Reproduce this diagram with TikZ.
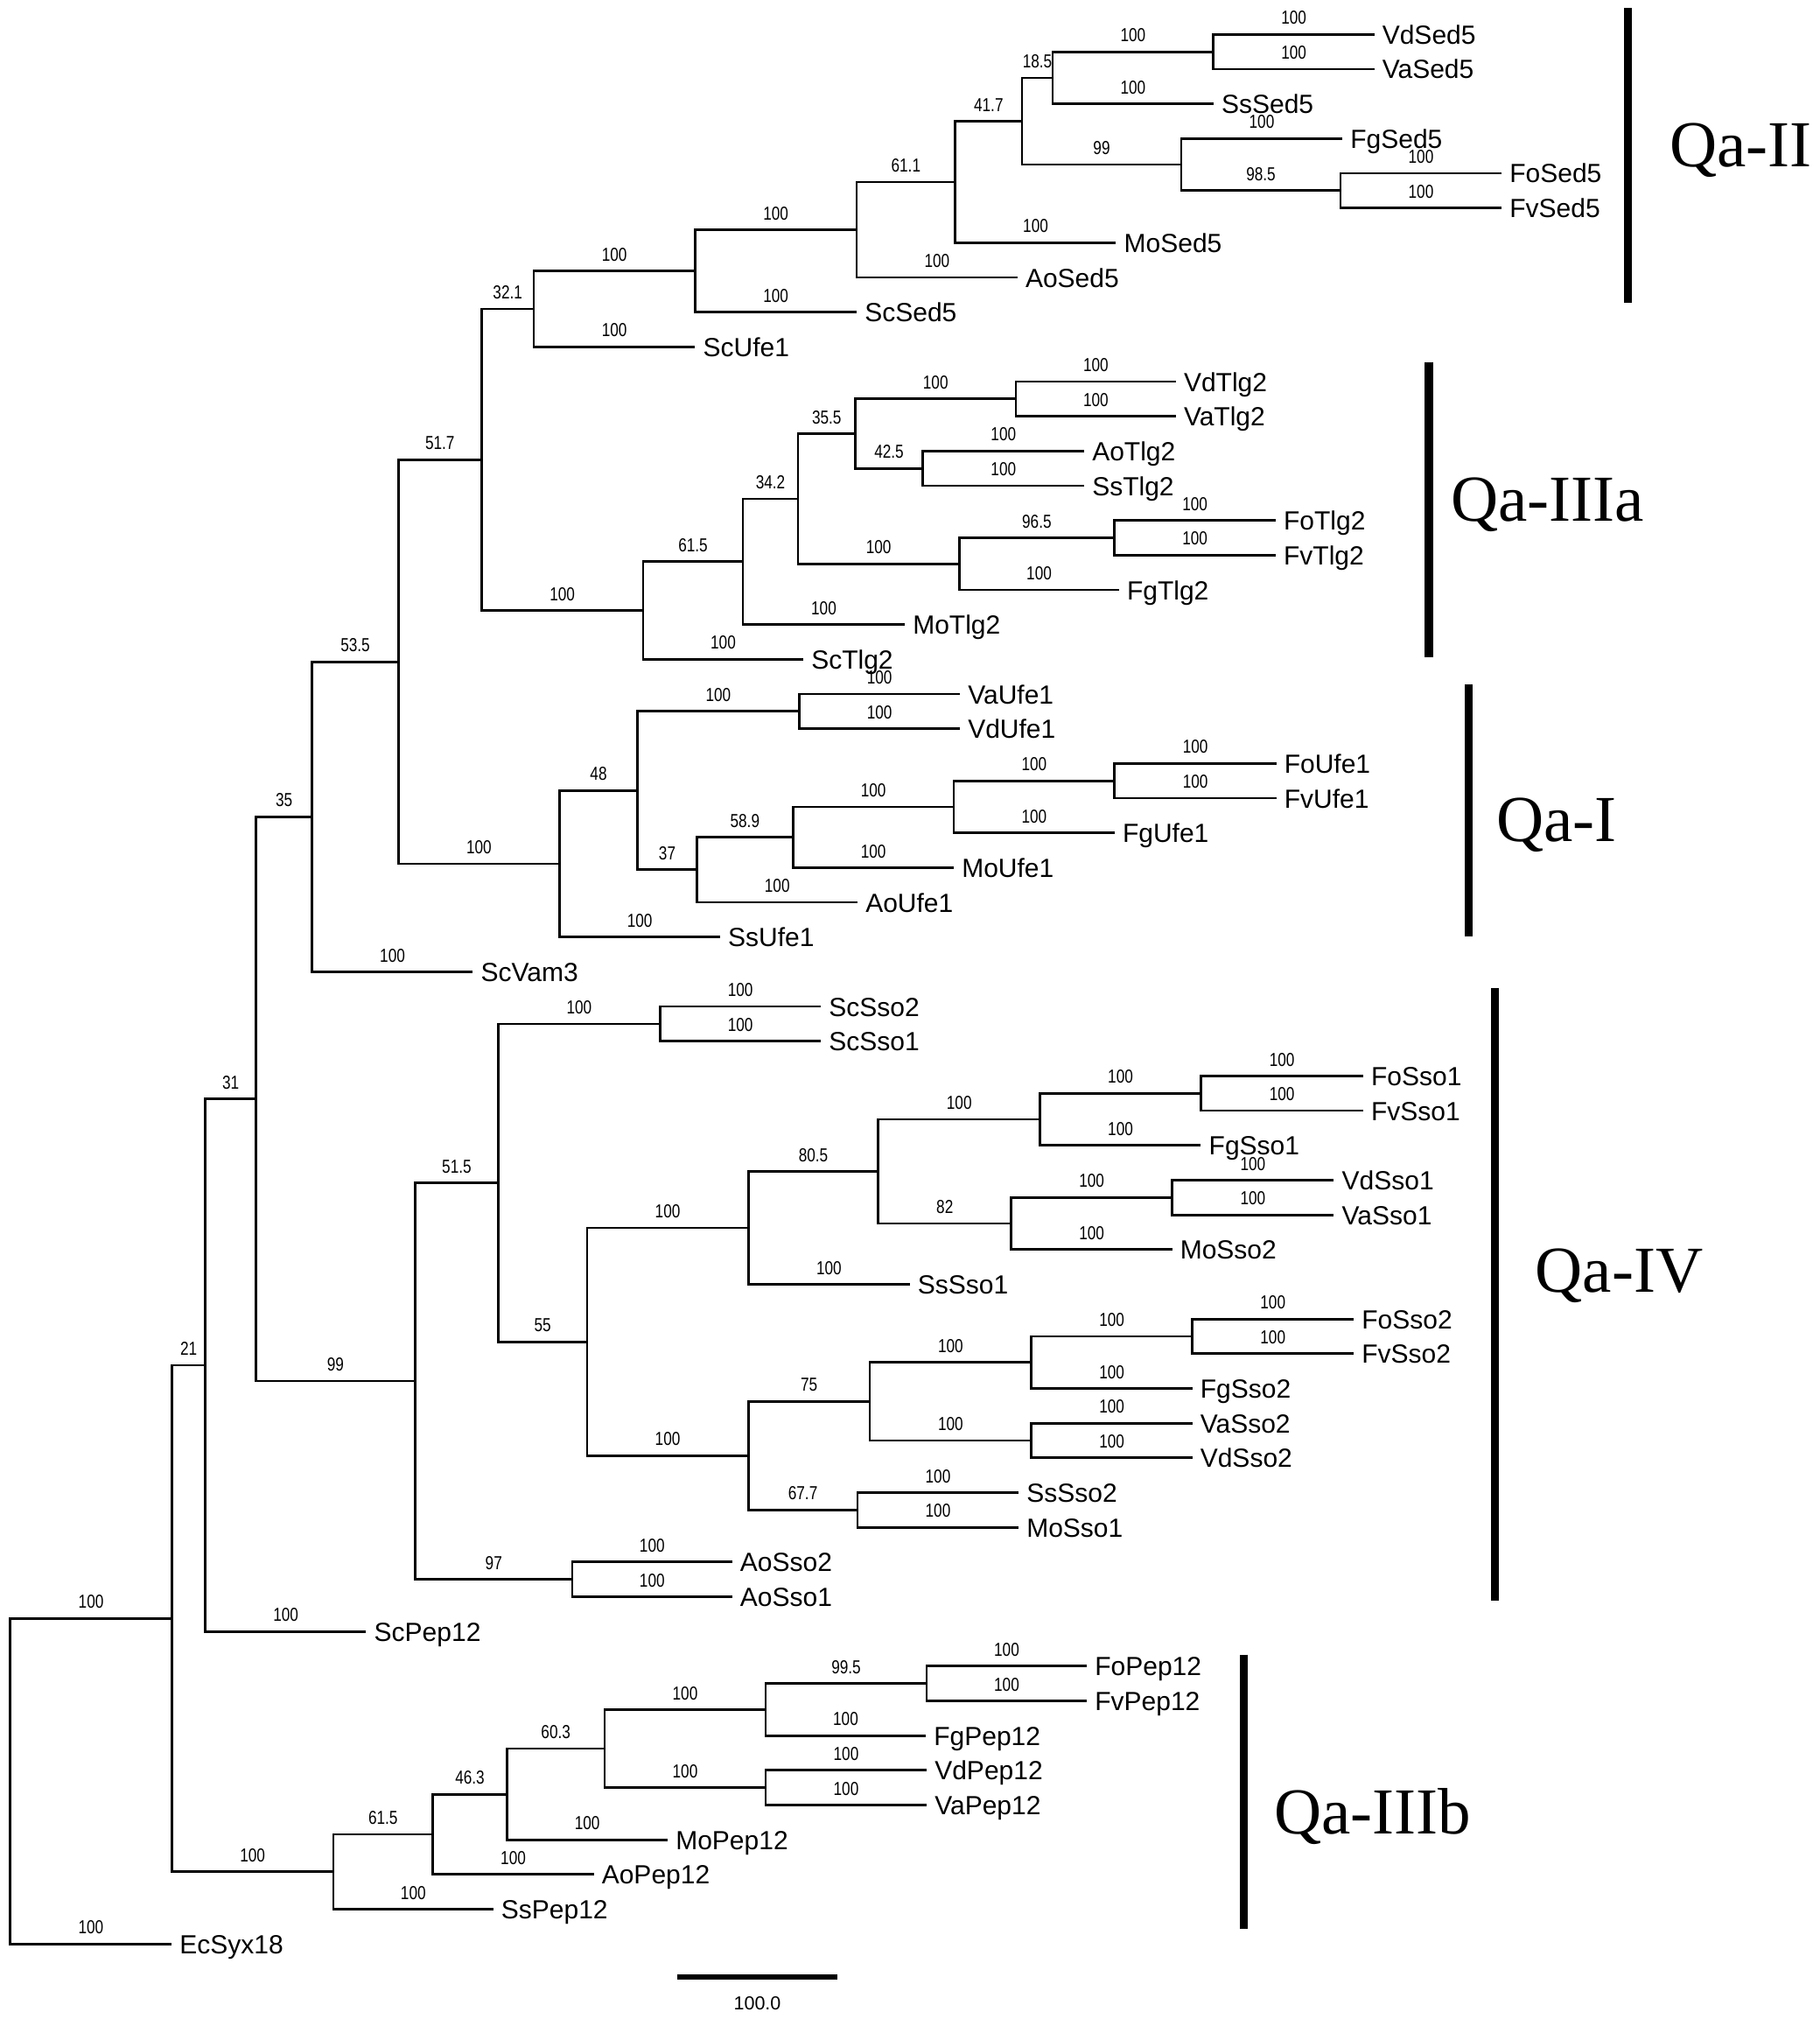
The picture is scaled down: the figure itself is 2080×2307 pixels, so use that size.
\documentclass[tikz,border=0pt]{standalone}
\usepackage{fontspec}
\setmainfont{Liberation Sans}
\newfontfamily\cladefont{Liberation Serif}
\usepackage{graphicx}
\usetikzlibrary{calc}
\newcommand\Yi[1]{39.3+39.67*(#1-1)}
\newcommand\mkleaf[3]{\coordinate (#1) at (#2,{\Yi{#3}});\node[leaflab] (t#1) at (#1) {#1};}
\newcommand\mknode[3]{\coordinate (#1) at (#2,{\Yi{#3}});}
\newcommand\mkclade[5]{\draw[branch] (#2) -| (#1) |- (#3);
 \node[bslab] (b#2) at ($(#1|-#2)!0.5!(#2)$) {\scalebox{0.8}[1]{#4}};
 \node[bslab] (b#3) at ($(#1|-#3)!0.5!(#3)$) {\scalebox{0.8}[1]{#5}};}
\begin{document}
\begin{tikzpicture}[x=0.25pt,y=-0.25pt,
  branch/.style={line width=0.7pt,line join=miter},
  bslab/.style={anchor=base,yshift=2.85pt,inner sep=0pt,font=\fontsize{5.375}{6}\selectfont},
  leaflab/.style={anchor=base west,xshift=2.125pt,yshift=-2.75pt,inner sep=0pt,font=\fontsize{7.5}{9}\selectfont},
  cbar/.style={line width=2.375pt},
  cladelab/.style={anchor=base west,inner sep=0pt,font=\cladefont\fontsize{18.75}{20}\selectfont},
  sbar/.style={line width=1.35pt}]
\useasboundingbox (0,0) rectangle (2080,2307);
% leaves
\mkleaf{VdSed5}{1570.5}{1}
\mkleaf{VaSed5}{1570.5}{2}
\mkleaf{SsSed5}{1386.8}{3}
\mkleaf{FgSed5}{1534}{4}
\mkleaf{FoSed5}{1716}{5}
\mkleaf{FvSed5}{1716}{6}
\mkleaf{MoSed5}{1275.4}{7}
\mkleaf{AoSed5}{1162.7}{8}
\mkleaf{ScSed5}{979}{9}
\mkleaf{ScUfe1}{794.4}{10}
\mkleaf{VdTlg2}{1343.7}{11}
\mkleaf{VaTlg2}{1343.7}{12}
\mkleaf{AoTlg2}{1239}{13}
\mkleaf{SsTlg2}{1239}{14}
\mkleaf{FoTlg2}{1457.8}{15}
\mkleaf{FvTlg2}{1457.8}{16}
\mkleaf{FgTlg2}{1278.7}{17}
\mkleaf{MoTlg2}{1034}{18}
\mkleaf{ScTlg2}{918}{19}
\mkleaf{VaUfe1}{1097}{20}
\mkleaf{VdUfe1}{1097}{21}
\mkleaf{FoUfe1}{1458.5}{22}
\mkleaf{FvUfe1}{1458.5}{23}
\mkleaf{FgUfe1}{1273.7}{24}
\mkleaf{MoUfe1}{1090}{25}
\mkleaf{AoUfe1}{980}{26}
\mkleaf{SsUfe1}{822.8}{27}
\mkleaf{ScVam3}{540.3}{28}
\mkleaf{ScSso2}{938}{29}
\mkleaf{ScSso1}{938}{30}
\mkleaf{FoSso1}{1557.8}{31}
\mkleaf{FvSso1}{1557.8}{32}
\mkleaf{FgSso1}{1372.4}{33}
\mkleaf{VdSso1}{1524.4}{34}
\mkleaf{VaSso1}{1524.4}{35}
\mkleaf{MoSso2}{1339.5}{36}
\mkleaf{SsSso1}{1039.5}{37}
\mkleaf{FoSso2}{1547}{38}
\mkleaf{FvSso2}{1547}{39}
\mkleaf{FgSso2}{1362.5}{40}
\mkleaf{VaSso2}{1362.5}{41}
\mkleaf{VdSso2}{1362.5}{42}
\mkleaf{SsSso2}{1164}{43}
\mkleaf{MoSso1}{1164}{44}
\mkleaf{AoSso2}{836.6}{45}
\mkleaf{AoSso1}{836.6}{46}
\mkleaf{ScPep12}{418.4}{47}
\mkleaf{FoPep12}{1242}{48}
\mkleaf{FvPep12}{1242}{49}
\mkleaf{FgPep12}{1058}{50}
\mkleaf{VdPep12}{1059}{51}
\mkleaf{VaPep12}{1059}{52}
\mkleaf{MoPep12}{763}{53}
\mkleaf{AoPep12}{678.5}{54}
\mkleaf{SsPep12}{563.6}{55}
\mkleaf{EcSyx18}{196}{56}
% internal nodes
\mknode{Root}{11.7}{51.313232421875}
\mknode{A}{196.4}{46.62646484375}
\mknode{B}{234.8}{39.3310546875}
\mknode{D}{292.4}{31.662109375}
\mknode{E}{356.8}{23.53515625}
\mknode{G}{455.2}{19.0703125}
\mknode{H}{550.4}{13.25}
\mknode{J}{610}{8.90625}
\mknode{L}{794.4}{7.8125}
\mknode{M}{979}{6.625}
\mknode{N}{1091.7}{5.25}
\mknode{O}{1168}{3.5}
\mknode{P}{1203}{2.25}
\mknode{R1}{1386.8}{1.5}
\mknode{Q}{1350}{4.75}
\mknode{S}{1532}{5.5}
\mknode{K}{735}{17.59375}
\mknode{T}{849}{16.1875}
\mknode{U}{912}{14.375}
\mknode{V}{977.5}{12.5}
\mknode{X}{1161}{11.5}
\mknode{Y}{1054.6}{13.5}
\mknode{W}{1096.4}{16.25}
\mknode{Z}{1273.4}{15.5}
\mknode{I}{639.6}{24.890625}
\mknode{AA}{728.5}{22.78125}
\mknode{AB}{913.3}{20.5}
\mknode{AC}{796.5}{25.0625}
\mknode{AD}{906.2}{24.125}
\mknode{AE}{1090}{23.25}
\mknode{AF}{1273.7}{22.5}
\mknode{F}{474.5}{39.7890625}
\mknode{AG}{569.4}{34.078125}
\mknode{AI}{754.3}{29.5}
\mknode{AJ}{670.9}{38.65625}
\mknode{AK}{855.2}{35.375}
\mknode{AM}{1003.8}{33.75}
\mknode{AN}{1188.7}{32.25}
\mknode{AP}{1372.4}{31.5}
\mknode{AO}{1155.8}{35.25}
\mknode{AQ}{1339.5}{34.5}
\mknode{AL}{855.2}{41.9375}
\mknode{AR}{994}{40.375}
\mknode{AT}{1178.8}{39.25}
\mknode{AV}{1362.5}{38.5}
\mknode{AU}{1178.8}{41.5}
\mknode{AS}{980}{43.5}
\mknode{AH}{654}{45.5}
\mknode{C}{381}{53.921875}
\mknode{AW}{494.6}{52.84375}
\mknode{AX}{579.4}{51.6875}
\mknode{AY}{691}{50.375}
\mknode{AZ}{875}{49.25}
\mknode{BB}{1059}{48.5}
\mknode{BA}{875}{51.5}
% clades
\mkclade{Root}{A}{EcSyx18}{100}{100}
\mkclade{A}{B}{C}{21}{100}
\mkclade{B}{D}{ScPep12}{31}{100}
\mkclade{D}{E}{F}{35}{99}
\mkclade{E}{G}{ScVam3}{53.5}{100}
\mkclade{G}{H}{I}{51.7}{100}
\mkclade{H}{J}{K}{32.1}{100}
\mkclade{J}{L}{ScUfe1}{100}{100}
\mkclade{L}{M}{ScSed5}{100}{100}
\mkclade{M}{N}{AoSed5}{61.1}{100}
\mkclade{N}{O}{MoSed5}{41.7}{100}
\mkclade{O}{P}{Q}{18.5}{99}
\mkclade{P}{R1}{SsSed5}{100}{100}
\mkclade{R1}{VdSed5}{VaSed5}{100}{100}
\mkclade{Q}{FgSed5}{S}{100}{98.5}
\mkclade{S}{FoSed5}{FvSed5}{100}{100}
\mkclade{K}{T}{ScTlg2}{61.5}{100}
\mkclade{T}{U}{MoTlg2}{34.2}{100}
\mkclade{U}{V}{W}{35.5}{100}
\mkclade{V}{X}{Y}{100}{42.5}
\mkclade{X}{VdTlg2}{VaTlg2}{100}{100}
\mkclade{Y}{AoTlg2}{SsTlg2}{100}{100}
\mkclade{W}{Z}{FgTlg2}{96.5}{100}
\mkclade{Z}{FoTlg2}{FvTlg2}{100}{100}
\mkclade{I}{AA}{SsUfe1}{48}{100}
\mkclade{AA}{AB}{AC}{100}{37}
\mkclade{AB}{VaUfe1}{VdUfe1}{100}{100}
\mkclade{AC}{AD}{AoUfe1}{58.9}{100}
\mkclade{AD}{AE}{MoUfe1}{100}{100}
\mkclade{AE}{AF}{FgUfe1}{100}{100}
\mkclade{AF}{FoUfe1}{FvUfe1}{100}{100}
\mkclade{F}{AG}{AH}{51.5}{97}
\mkclade{AG}{AI}{AJ}{100}{55}
\mkclade{AI}{ScSso2}{ScSso1}{100}{100}
\mkclade{AJ}{AK}{AL}{100}{100}
\mkclade{AK}{AM}{SsSso1}{80.5}{100}
\mkclade{AM}{AN}{AO}{100}{82}
\mkclade{AN}{AP}{FgSso1}{100}{100}
\mkclade{AP}{FoSso1}{FvSso1}{100}{100}
\mkclade{AO}{AQ}{MoSso2}{100}{100}
\mkclade{AQ}{VdSso1}{VaSso1}{100}{100}
\mkclade{AL}{AR}{AS}{75}{67.7}
\mkclade{AR}{AT}{AU}{100}{100}
\mkclade{AT}{AV}{FgSso2}{100}{100}
\mkclade{AV}{FoSso2}{FvSso2}{100}{100}
\mkclade{AU}{VaSso2}{VdSso2}{100}{100}
\mkclade{AS}{SsSso2}{MoSso1}{100}{100}
\mkclade{AH}{AoSso2}{AoSso1}{100}{100}
\mkclade{C}{AW}{SsPep12}{61.5}{100}
\mkclade{AW}{AX}{AoPep12}{46.3}{100}
\mkclade{AX}{AY}{MoPep12}{60.3}{100}
\mkclade{AY}{AZ}{BA}{100}{100}
\mkclade{AZ}{BB}{FgPep12}{99.5}{100}
\mkclade{BB}{FoPep12}{FvPep12}{100}{100}
\mkclade{BA}{VdPep12}{VaPep12}{100}{100}
% clade bars
\coordinate (q2a) at (1860.3,9);    \coordinate (q2b) at (1860.3,346);
\coordinate (q3aa) at (1633,413.6); \coordinate (q3ab) at (1633,750.5);
\coordinate (q1a) at (1678.6,782.3); \coordinate (q1b) at (1678.6,1070);
\coordinate (q4a) at (1708.5,1129); \coordinate (q4b) at (1708.5,1829);
\coordinate (q3ba) at (1421.4,1890.7); \coordinate (q3bb) at (1421.4,2203.6);
\draw[cbar] (q2a) -- (q2b);
\draw[cbar] (q3aa) -- (q3ab);
\draw[cbar] (q1a) -- (q1b);
\draw[cbar] (q4a) -- (q4b);
\draw[cbar] (q3ba) -- (q3bb);
\node[cladelab] (lq2) at (1907.5,190.6) {Qa-II};
\node[cladelab] (lq3a) at (1657.5,595.8) {Qa-IIIa};
\node[cladelab] (lq1) at (1709.5,961.7) {Qa-I};
\node[cladelab] (lq4) at (1754,1476) {Qa-IV};
\node[cladelab] (lq3b) at (1455.5,2095.6) {Qa-IIIb};
% scale bar
\coordinate (sb1) at (773.5,2259); \coordinate (sb2) at (957,2259);
\draw[sbar] (sb1) -- (sb2);
\node[anchor=base,inner sep=0pt,font=\fontsize{5.375}{6}\selectfont] (sbl) at (865.5,2296.6) {100.0};
\end{tikzpicture}
\end{document}
